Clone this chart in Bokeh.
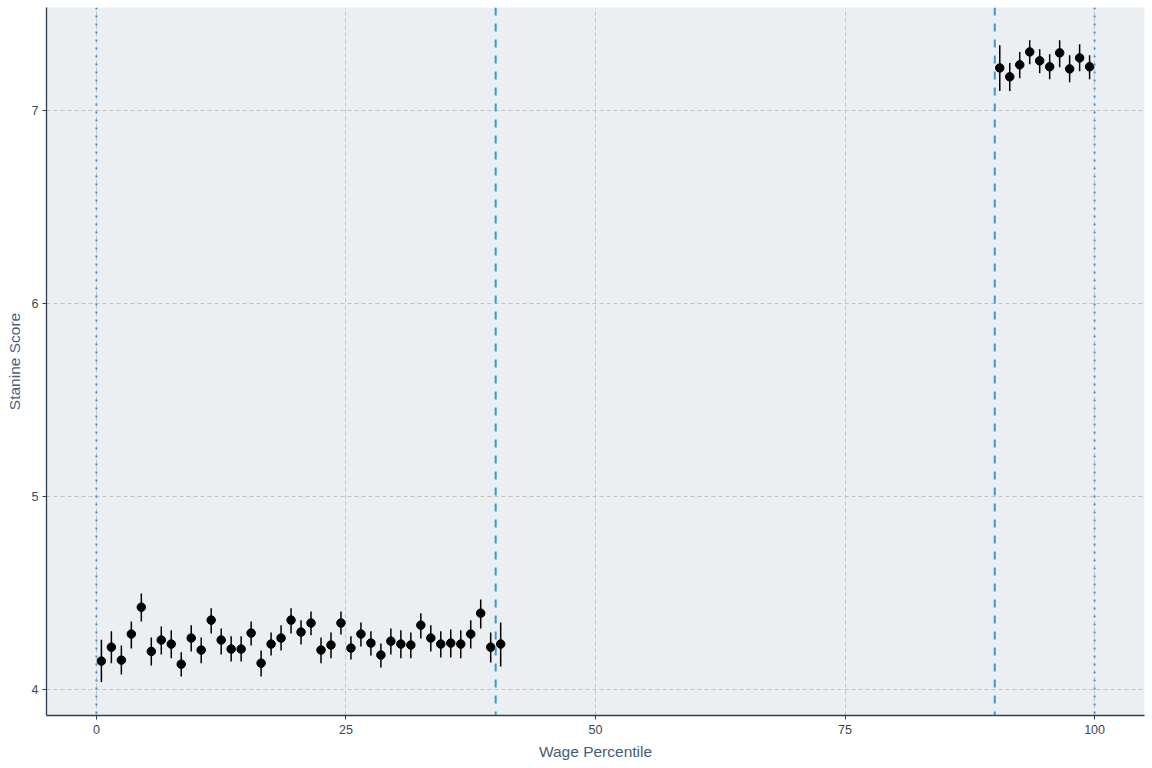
from bokeh.plotting import figure
from bokeh.models import ColumnDataSource, Range1d, Span, FixedTicker
from bokeh.embed import file_html
from bokeh.resources import INLINE

# ---- data ----
percentile = [0.5, 1.5, 2.5, 3.5, 4.5, 5.5, 6.5, 7.5, 8.5, 9.5,
              10.5, 11.5, 12.5, 13.5, 14.5, 15.5, 16.5, 17.5, 18.5, 19.5,
              20.5, 21.5, 22.5, 23.5, 24.5, 25.5, 26.5, 27.5, 28.5, 29.5,
              30.5, 31.5, 32.5, 33.5, 34.5, 35.5, 36.5, 37.5, 38.5, 39.5,
              40.5,
              90.5, 91.5, 92.5, 93.5, 94.5, 95.5, 96.5, 97.5, 98.5, 99.5]
stanine = [4.147, 4.219, 4.152, 4.287, 4.426, 4.197, 4.256, 4.235, 4.131, 4.266,
           4.204, 4.359, 4.256, 4.209, 4.209, 4.292, 4.136, 4.235, 4.266, 4.359,
           4.297, 4.344, 4.204, 4.230, 4.344, 4.214, 4.287, 4.240, 4.178, 4.250,
           4.235, 4.230, 4.333, 4.266, 4.235, 4.240, 4.235, 4.287, 4.395, 4.219,
           4.235,
           7.219, 7.173, 7.235, 7.302, 7.256, 7.225, 7.297, 7.214, 7.271, 7.225]
lower = [4.038, 4.136, 4.078, 4.212, 4.352, 4.124, 4.181, 4.161, 4.067, 4.197,
         4.135, 4.290, 4.181, 4.145, 4.145, 4.228, 4.067, 4.176, 4.202, 4.290,
         4.233, 4.280, 4.135, 4.161, 4.285, 4.155, 4.223, 4.176, 4.114, 4.181,
         4.161, 4.161, 4.264, 4.197, 4.166, 4.166, 4.161, 4.212, 4.316, 4.140,
         4.119,
         7.100, 7.100, 7.166, 7.238, 7.192, 7.161, 7.223, 7.145, 7.202, 7.161]
upper = [4.257, 4.301, 4.228, 4.352, 4.497, 4.269, 4.326, 4.306, 4.192, 4.332,
         4.269, 4.420, 4.316, 4.275, 4.275, 4.352, 4.202, 4.295, 4.332, 4.420,
         4.358, 4.404, 4.269, 4.295, 4.404, 4.275, 4.347, 4.301, 4.238, 4.316,
         4.306, 4.295, 4.394, 4.332, 4.301, 4.311, 4.306, 4.358, 4.466, 4.295,
         4.347,
         7.337, 7.244, 7.301, 7.363, 7.316, 7.290, 7.363, 7.285, 7.342, 7.285]

vline_pos = [0, 40, 90, 100]
vline_dash = ["2 6", "8 8", "8 8", "2 6"]

x_ticks = [0, 25, 50, 75, 100]
y_ticks = [4, 5, 6, 7]

# ---- styling ----
PANEL = "#ECEFF1"
AXIS = "#2C3E50"
TEXT = "#34495E"
TITLE = "#45607A"
BLUE = "#3498DB"
GRID = "#C3C3C3"
FONT = "Liberation Sans"

src = ColumnDataSource(dict(x=percentile, y=stanine, lo=lower, hi=upper))

p = figure(width=1152, height=768,
           x_range=Range1d(-5.0, 105.0), y_range=Range1d(3.865, 7.532),
           output_backend="svg", toolbar_location=None,
           min_border_left=46, min_border_right=8,
           min_border_top=7, min_border_bottom=53)

p.background_fill_color = PANEL
p.border_fill_color = "white"
p.outline_line_color = None

for g in (p.xgrid, p.ygrid):
    g.grid_line_color = GRID
    g.grid_line_dash = "4 3"
    g.grid_line_width = 1
p.xgrid.ticker = FixedTicker(ticks=x_ticks)
p.ygrid.ticker = FixedTicker(ticks=y_ticks)

p.xaxis.ticker = FixedTicker(ticks=x_ticks)
p.yaxis.ticker = FixedTicker(ticks=y_ticks)

for ax in (p.xaxis[0], p.yaxis[0]):
    ax.axis_line_color = AXIS
    ax.axis_line_width = 1.3
    ax.major_tick_line_color = AXIS
    ax.major_tick_line_width = 1
    ax.major_tick_out = 4
    ax.major_tick_in = 0
    ax.minor_tick_line_color = None
    ax.major_label_text_color = TEXT
    ax.major_label_text_font = FONT
    ax.major_label_text_font_size = "12.5px"
    ax.axis_label_text_color = TITLE
    ax.axis_label_text_font = FONT
    ax.axis_label_text_font_size = "15.5px"
    ax.axis_label_text_font_style = "normal"

p.xaxis.axis_label = "Wage Percentile"
p.yaxis.axis_label = "Stanine Score"
p.xaxis.major_label_standoff = 5
p.xaxis.axis_label_standoff = 6
p.yaxis.major_label_standoff = 4
p.yaxis.axis_label_standoff = 6

p.segment(x0="x", y0="lo", x1="x", y1="hi", source=src,
          line_color="black", line_width=1.5)
p.scatter(x="x", y="y", source=src, size=8.5,
          fill_color="black", line_color="black")

for loc, dash in zip(vline_pos, vline_dash):
    p.add_layout(Span(location=loc, dimension="height",
                      line_color=BLUE, line_width=2, line_dash=dash))

open("out.html", "w").write(file_html(p, INLINE))
